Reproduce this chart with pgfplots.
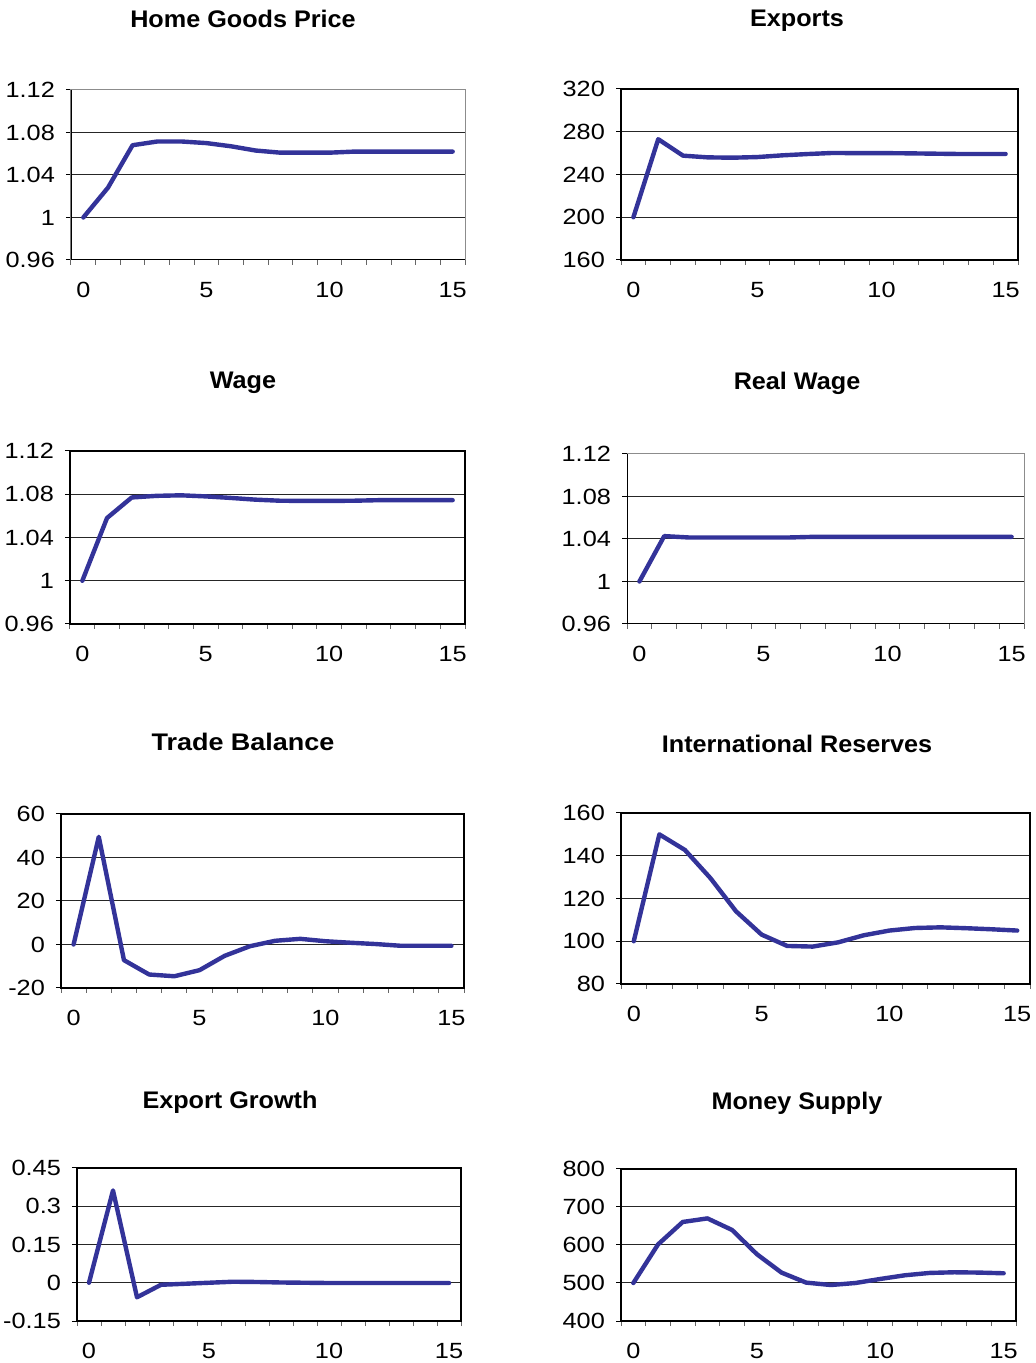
\documentclass[border=0pt]{standalone}
\usepackage{fontspec}
\setmainfont{Liberation Sans}
\usepackage{pgfplots}
\pgfplotsset{compat=1.18}
\definecolor{lineblue}{RGB}{51,51,153}
\tikzset{ttl/.style={font=\bfseries\fontsize{12}{14}\selectfont, xscale=1.05},
  ser/.style={draw=lineblue, line width=2.2pt, line join=round, line cap=round, mark=none}}
\pgfplotsset{
  panel/.style={
    scale only axis, anchor=south west,
    xmin=-0.5, xmax=15.5,
    xtick={0,5,10,15},
    xticklabels={0,5,10,15},
    minor xtick={-0.5,0.5,...,15.5},
    tick align=outside,
    tick pos=left,
    major tick length=2.5pt,
    minor tick length=2.5pt,
    major x tick style={draw=none},
    minor x tick style={black!60, line width=0.5pt},
    y tick style={black, line width=0.5pt},
    ymajorgrids,
    grid style={black!85, line width=0.5pt},
    tick label style={font=\fontsize{11}{13}\selectfont, xscale=1.15},
    xticklabel style={yshift=-5pt},
    yticklabel style={xshift=-1.3pt},
  },
  thinframe/.style={axis line style={draw=black!45, line width=0.5pt}},
  thickframe/.style={axis line style={draw=black, line width=1pt}},
  midframe/.style={axis line style={draw=black, line width=0.7pt}},
}
\begin{document}
\begin{tikzpicture}
\path[use as bounding box] (0,0) rectangle (517.5pt,681.5pt);

% Home Goods Price
\begin{axis}[panel, thinframe, at={(35.5pt,551.5pt)}, width=197pt, height=85pt,
  ymin=0.96, ymax=1.12, ytick={0.96,1,1.04,1.08,1.12}, yticklabels={0.96,1,1.04,1.08,1.12}]
\addplot[ser] coordinates {(0,1.000) (1,1.028) (2,1.068) (3,1.0715) (4,1.0715) (5,1.070) (6,1.067) (7,1.063) (8,1.061) (9,1.061) (10,1.061) (11,1.062) (12,1.062) (13,1.062) (14,1.062) (15,1.062)};
\draw[black, line width=0.8pt] (rel axis cs:0,1) -- (rel axis cs:0,0) -- (rel axis cs:1,0);
\end{axis}
\node[ttl] at (121.5pt,672pt) {Home Goods Price};

% Exports
\begin{axis}[panel, thickframe, at={(310.5pt,551.5pt)}, width=198.5pt, height=85.5pt,
  ymin=160, ymax=320, ytick={160,200,240,280,320}, yticklabels={160,200,240,280,320}]
\addplot[ser] coordinates {(0,200) (1,273) (2,257.6) (3,256) (4,255.7) (5,256.3) (6,257.9) (7,259.1) (8,260.1) (9,260) (10,260) (11,259.8) (12,259.5) (13,259.2) (14,259.2) (15,259.2)};
\end{axis}
\node[ttl] at (398.5pt,671pt) {Exports};

% Wage
\begin{axis}[panel, thickframe, at={(35pt,369.5pt)}, width=197.5pt, height=86.5pt,
  ymin=0.96, ymax=1.12, ytick={0.96,1,1.04,1.08,1.12}, yticklabels={0.96,1,1.04,1.08,1.12}]
\addplot[ser] coordinates {(0,1.000) (1,1.058) (2,1.077) (3,1.0785) (4,1.079) (5,1.078) (6,1.0766) (7,1.075) (8,1.074) (9,1.0738) (10,1.0738) (11,1.074) (12,1.0745) (13,1.0745) (14,1.0745) (15,1.0745)};
\end{axis}
\node[ttl] at (121.5pt,490pt) {Wage};

% Real Wage
\begin{axis}[panel, thinframe, at={(313.5pt,369.5pt)}, width=198.5pt, height=85pt,
  ymin=0.96, ymax=1.12, ytick={0.96,1,1.04,1.08,1.12}, yticklabels={0.96,1,1.04,1.08,1.12}]
\addplot[ser] coordinates {(0,1.000) (1,1.0427) (2,1.0414) (3,1.0414) (4,1.0414) (5,1.0414) (6,1.0414) (7,1.042) (8,1.042) (9,1.042) (10,1.042) (11,1.042) (12,1.042) (13,1.042) (14,1.042) (15,1.042)};
\draw[black, line width=0.8pt] (rel axis cs:0,1) -- (rel axis cs:0,0) -- (rel axis cs:1,0);
\end{axis}
\node[ttl] at (398.5pt,490pt) {Real Wage};

% Trade Balance
\begin{axis}[panel, midframe, at={(30.5pt,187.5pt)}, width=201.5pt, height=87pt,
  ymin=-20, ymax=60, ytick={-20,0,20,40,60}, yticklabels={-20,0,20,40,60}]
\addplot[ser] coordinates {(0,0) (1,49.5) (2,-7.2) (3,-13.8) (4,-14.6) (5,-11.8) (6,-5.2) (7,-0.8) (8,1.7) (9,2.6) (10,1.5) (11,0.8) (12,0.2) (13,-0.6) (14,-0.6) (15,-0.6)};
\end{axis}
\node[ttl, xscale=1.07] at (121.5pt,310.5pt) {Trade Balance};

% International Reserves
\begin{axis}[panel, thickframe, at={(310.5pt,189.5pt)}, width=204.5pt, height=85.5pt,
  ymin=80, ymax=160, ytick={80,100,120,140,160}, yticklabels={80,100,120,140,160}]
\addplot[ser] coordinates {(0,100) (1,150) (2,142.7) (3,129.5) (4,114) (5,103.1) (6,97.8) (7,97.5) (8,99.5) (9,102.8) (10,105) (11,106.2) (12,106.5) (13,106.1) (14,105.6) (15,105)};
\end{axis}
\node[ttl] at (398.5pt,309.5pt) {International Reserves};

% Export Growth
\begin{axis}[panel, midframe, at={(38.5pt,21pt)}, width=192pt, height=76.5pt,
  ymin=-0.15, ymax=0.45, ytick={-0.15,0,0.15,0.3,0.45}, yticklabels={-0.15,0,0.15,0.3,0.45}]
\addplot[ser] coordinates {(0,0) (1,0.362) (2,-0.057) (3,-0.008) (4,-0.004) (5,0) (6,0.004) (7,0.003) (8,0.001) (9,0) (10,-0.001) (11,-0.001) (12,-0.001) (13,-0.001) (14,-0.001) (15,-0.001)};
\end{axis}
\node[ttl] at (115pt,130.5pt) {Export Growth};

% Money Supply
\begin{axis}[panel, thickframe, at={(310.5pt,21pt)}, width=197.5pt, height=76pt,
  ymin=400, ymax=800, ytick={400,500,600,700,800}, yticklabels={400,500,600,700,800}]
\addplot[ser] coordinates {(0,500) (1,601.5) (2,660.6) (3,670) (4,639.5) (5,576) (6,527.4) (7,501) (8,494.7) (9,500) (10,510.6) (11,520.3) (12,526.5) (13,528.2) (14,527.4) (15,525.6)};
\end{axis}
\node[ttl] at (398.5pt,130pt) {Money Supply};
\end{tikzpicture}
\end{document}
